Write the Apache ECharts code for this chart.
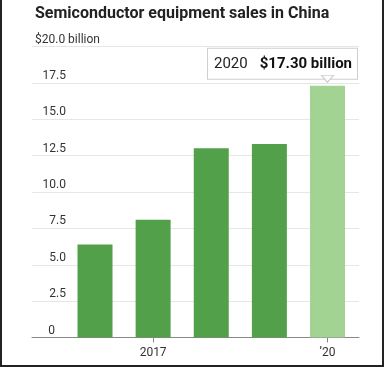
<!DOCTYPE html>
<html><head><meta charset="utf-8">
<script src="https://cdn.jsdelivr.net/npm/echarts@6/dist/echarts.min.js"></script>
<style>
html,body{margin:0;padding:0;background:#fff;}
#wrap{position:relative;width:384px;height:367px;}
#chart{position:absolute;left:0;top:0;width:384px;height:367px;}
#frame{position:absolute;left:0;top:0;width:384px;height:367px;box-sizing:border-box;border-left:2px solid #222;border-right:2px solid #222;border-bottom:2px solid #222;pointer-events:none;}
</style></head>
<body>
<div id="wrap"><div id="chart"></div><div id="frame"></div></div>
<script>
const titleText = 'Semiconductor equipment sales in China';
const years = [2016, 2017, 2018, 2019, 2020];
const sales = [6.4, 8.1, 13.0, 13.3, 17.3];
const xTickValues = [2017, 2020];
const xTickLabels = ['2017', '\u201920'];
const yTop = 20;
const yStep = 2.5;
const calloutYear = '2020';
const calloutValue = '$17.30 billion';

const font = 'Roboto, "Liberation Sans", sans-serif';
const chart = echarts.init(document.getElementById('chart'));

const barData = years.map((y, i) => {
  const item = { value: [y, sales[i]], itemStyle: { color: i === years.length - 1 ? '#a2d393' : '#53a04a' } };
  if (i === years.length - 1) {
    item.label = {
      show: true,
      position: 'top',
      distance: 7,
      offset: [-45, 0],
      formatter: '{r|' + calloutYear + '}{b|' + calloutValue + '}',
      backgroundColor: '#fff',
      borderColor: '#cfcfcf',
      borderWidth: 1,
      padding: [5, 5, 4, 6],
      rich: {
        r: { fontFamily: font, fontSize: 15, color: '#222', lineHeight: 21, padding: [0, 12, 0, 0] },
        b: { fontFamily: font, fontSize: 15, fontWeight: 'bold', color: '#111', lineHeight: 21 }
      }
    };
  }
  return item;
});

chart.setOption({
  animation: false,
  title: {
    text: titleText,
    left: 30,
    top: 1,
    textStyle: { fontFamily: font, fontSize: 16, fontWeight: 'bold', color: '#222' }
  },
  grid: { left: 32, right: 25, top: 46.5, bottom: 29.5, containLabel: false },
  xAxis: {
    type: 'value',
    min: 2014.916,
    max: 2020.542,
    splitLine: { show: false },
    axisLine: { show: true, lineStyle: { color: '#888', width: 1 } },
    axisTick: { show: true, customValues: xTickValues, length: 5, lineStyle: { color: '#888' } },
    axisLabel: {
      customValues: xTickValues,
      margin: 9,
      fontFamily: font, fontSize: 12, color: '#333',
      formatter: v => xTickLabels[xTickValues.indexOf(Math.round(v))] || ''
    }
  },
  yAxis: {
    type: 'value',
    min: 0,
    max: yTop,
    interval: yStep,
    axisLine: { show: false },
    axisTick: { show: false },
    splitLine: { lineStyle: { color: '#e6e6e6', width: 1 } },
    axisLabel: {
      inside: true,
      margin: 3,
      align: 'left',
      verticalAlign: 'bottom',
      padding: [0, 0, 1, 0],
      fontFamily: font, fontSize: 12, color: '#333',
      formatter: v => {
        if (v === yTop) return '$' + v.toFixed(1) + ' billion';
        if (v === 0) return '{z|0}';
        return '{n|' + v.toFixed(1) + '}';
      },
      rich: {
        n: { width: 31, align: 'right', fontFamily: font, fontSize: 12, color: '#333' },
        z: { width: 20, align: 'right', fontFamily: font, fontSize: 12, color: '#333' }
      }
    }
  },
  series: [{
    type: 'bar',
    barWidth: 35,
    data: barData,
    markPoint: {
      symbol: 'path://M0,0L12,0L6,6Z',
      symbolSize: [12, 7],
      symbolOffset: [0, -7],
      silent: true,
      label: { show: false },
      itemStyle: { color: '#fff', borderColor: '#cfcfcf', borderWidth: 1 },
      data: [{ coord: [years[years.length - 1], sales[sales.length - 1]] }]
    }
  }]
});
</script>
</body></html>
